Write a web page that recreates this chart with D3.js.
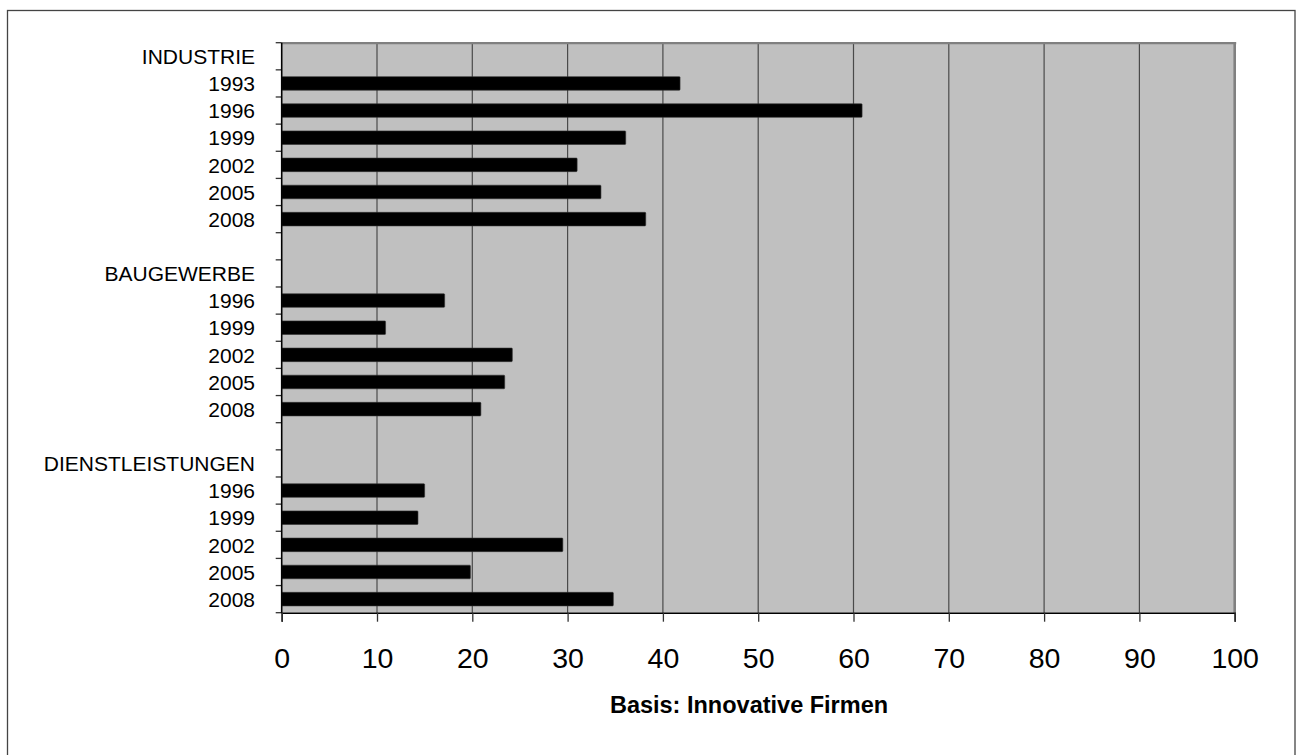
<!DOCTYPE html>
<html>
<head>
<meta charset="utf-8">
<script src="https://cdn.jsdelivr.net/npm/d3@7/dist/d3.min.js"></script>
<style>
  html, body { margin: 0; padding: 0; background: #fff; }
  svg { display: block; }
  text { font-family: "Liberation Sans", Arial, sans-serif; fill: #000; }
</style>
</head>
<body>
<svg id="chart" width="1296" height="755"></svg>
<script>
// ---- Data ----
const groups = ["INDUSTRIE", "BAUGEWERBE", "DIENSTLEISTUNGEN"];
const industrieYears = ["1993", "1996", "1999", "2002", "2005", "2008"];
const industrieValues = [41.8, 60.9, 36.1, 31.0, 33.5, 38.2];
const bauYears = ["1996", "1999", "2002", "2005", "2008"];
const bauValues = [17.1, 10.9, 24.2, 23.4, 20.9];
const dlYears = ["1996", "1999", "2002", "2005", "2008"];
const dlValues = [15.0, 14.3, 29.5, 19.8, 34.8];
const xTicks = [0, 10, 20, 30, 40, 50, 60, 70, 80, 90, 100];
const xTitle = "Basis: Innovative Firmen";

(function () {
// ---- Rows (header, years, blank separator) ----
const groupData = [
  { name: groups[0], years: industrieYears, values: industrieValues },
  { name: groups[1], years: bauYears, values: bauValues },
  { name: groups[2], years: dlYears, values: dlValues }
];
const rows = [];
groupData.forEach((g, gi) => {
  rows.push({ label: g.name, value: null });
  g.years.forEach((yr, i) => rows.push({ label: yr, value: g.values[i] }));
  if (gi < groupData.length - 1) rows.push({ label: "", value: null });
});
rows.forEach((r, i) => r.key = "r" + i);

// ---- Layout ----
const pLeft = 281.7, pRight = 1234.7, pTop = 42.7, pBottom = 612.7;

const svg = d3.select("#chart");

// outer border
svg.append("rect")
  .attr("x", 7.5).attr("y", 10.5)
  .attr("width", 1295 - 7.5).attr("height", 760)
  .attr("fill", "none").attr("stroke", "#444").attr("stroke-width", 1.3);

const x = d3.scaleLinear().domain([0, 100]).range([pLeft, pRight]);
const y = d3.scaleBand().domain(rows.map(r => r.key)).range([pTop, pBottom])
  .paddingInner(0.5).paddingOuter(0.25);

// plot background
svg.append("rect")
  .attr("x", x(0)).attr("y", pTop)
  .attr("width", x(100) - x(0)).attr("height", pBottom - pTop)
  .attr("fill", "#c0c0c0");

// gridlines
svg.append("g").selectAll("line")
  .data(xTicks.filter(t => t > 0 && t < 100))
  .join("line")
  .attr("x1", d => x(d)).attr("x2", d => x(d))
  .attr("y1", pTop).attr("y2", pBottom)
  .attr("stroke", "#4a4a4a").attr("stroke-width", 1.2);

// plot frame top & right (grey)
svg.append("line")
  .attr("x1", x(0)).attr("x2", x(100) + 1.5)
  .attr("y1", pTop + 0.5).attr("y2", pTop + 0.5)
  .attr("stroke", "#808080").attr("stroke-width", 2.2);
svg.append("line")
  .attr("x1", x(100)).attr("x2", x(100))
  .attr("y1", pTop).attr("y2", pBottom)
  .attr("stroke", "#808080").attr("stroke-width", 2.6);

// bars
svg.append("g").selectAll("rect")
  .data(rows.filter(r => r.value !== null))
  .join("rect")
  .attr("x", x(0))
  .attr("y", d => y(d.key))
  .attr("width", d => x(d.value) - x(0))
  .attr("height", y.bandwidth())
  .attr("fill", "#000")
  .attr("stroke", "#333").attr("stroke-width", 0.6)
  .attr("rx", 0.8);

// y-axis labels
const yAxis = d3.axisLeft(y)
  .tickFormat(k => rows.find(r => r.key === k).label)
  .tickSize(0).tickPadding(26.7);
const gy = svg.append("g").attr("transform", `translate(${x(0)},0)`).call(yAxis);
gy.select(".domain").remove();
gy.selectAll("text")
  .style("font-family", "'Liberation Sans', Arial, sans-serif")
  .style("font-size", "21px").attr("fill", "#000").attr("dy", "0.37em");

// y boundary ticks
const boundaries = rows.map(r => y(r.key) - y.step() * y.paddingOuter()).concat([pBottom]);
svg.append("g").selectAll("line")
  .data(boundaries)
  .join("line")
  .attr("x1", x(0) - 6).attr("x2", x(0))
  .attr("y1", d => d).attr("y2", d => d)
  .attr("stroke", "#333").attr("stroke-width", 1.3);

// y axis line
svg.append("line")
  .attr("x1", x(0)).attr("x2", x(0))
  .attr("y1", pTop).attr("y2", pBottom + 0.5)
  .attr("stroke", "#000").attr("stroke-width", 1.6);

// x axis
const xAxis = d3.axisBottom(x).tickValues(xTicks).tickSize(9).tickPadding(26).tickFormat(d3.format("d"));
const gx = svg.append("g").attr("transform", `translate(0,${pBottom})`).call(xAxis);
gx.select(".domain").attr("stroke", "#000").attr("stroke-width", 1.6);
gx.selectAll(".tick line").attr("stroke", "#333").attr("stroke-width", 1.3);
gx.selectAll("text")
  .style("font-family", "'Liberation Sans', Arial, sans-serif")
  .style("font-size", "28.5px").attr("fill", "#000");

// x title
svg.append("text")
  .attr("x", 749).attr("y", 713)
  .attr("text-anchor", "middle")
  .style("font-size", "23.5px").style("font-weight", "bold")
  .text(xTitle);
})();
</script>
</body>
</html>
